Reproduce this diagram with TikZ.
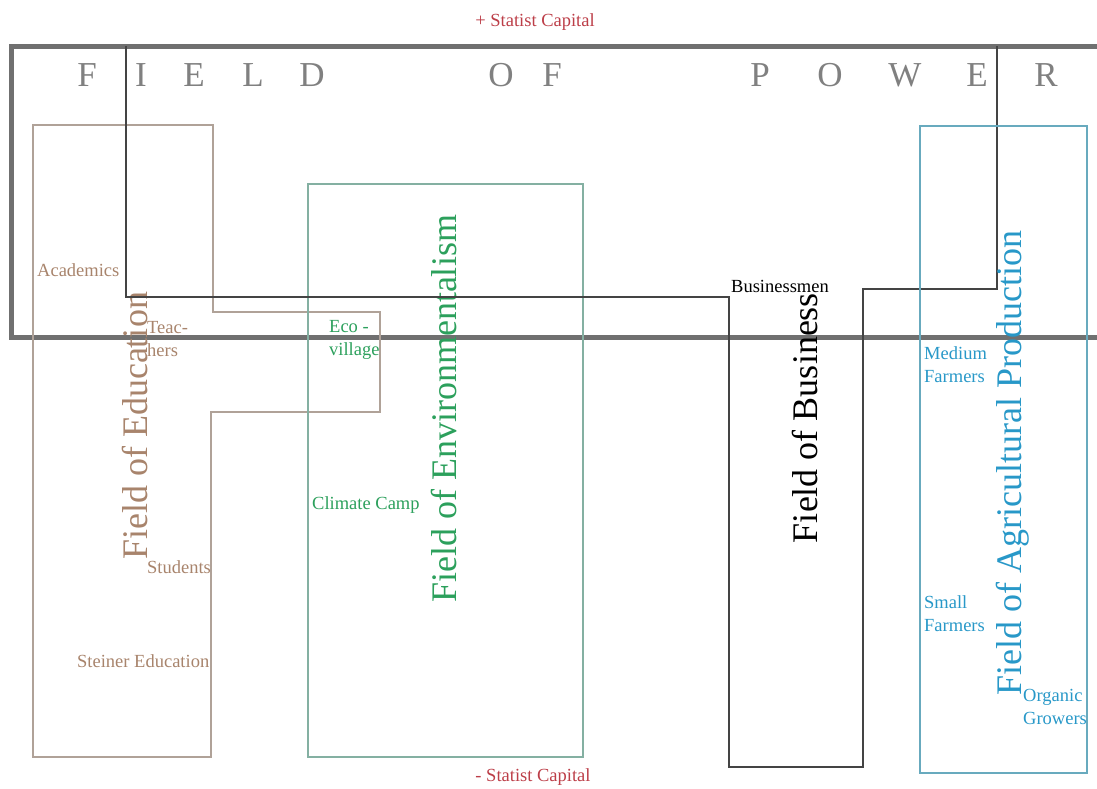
\documentclass[tikz,border=0pt]{standalone}
\usepackage{fontspec}
\setmainfont{Liberation Serif}
\usepackage{tikz}
\usepackage{xcolor}

\definecolor{powergray}{RGB}{112,112,112}
\definecolor{lettergray}{RGB}{128,128,128}
\definecolor{busline}{RGB}{68,68,68}
\definecolor{edutext}{RGB}{168,132,108}
\definecolor{eduline}{RGB}{176,162,152}
\definecolor{envtext}{RGB}{44,160,92}
\definecolor{envline}{RGB}{132,176,162}
\definecolor{agritext}{RGB}{40,152,200}
\definecolor{agriline}{RGB}{104,170,190}
\definecolor{capred}{RGB}{188,62,72}

\tikzset{
  small/.style={inner sep=0pt,font=\fontsize{18.5}{23}\selectfont,align=left},
  fieldname/.style={inner sep=0pt,rotate=90,anchor=base,font=\fontsize{36}{40}\selectfont},
  powerletter/.style={inner sep=0pt,anchor=base,text=lettergray,font=\fontsize{35}{40}\selectfont}
}

\begin{document}
\begin{tikzpicture}[x=1pt,y=-1pt]
        \useasboundingbox (0,0) rectangle (1097,788);
        % Field of power
        \draw[powergray,line width=5pt] (1097,46) -- (11,46) -- (11,337) -- (1097,337);
        \foreach \ch/\px in {F/87,I/141,E/194,L/253,D/312,O/501,F/552,P/760,O/830,W/905,E/977,R/1046}
            \node[powerletter] (pow-\px) at (\px,86) {\ch};
        \node[small,text=capred] (capplus) at (535,22) {+ Statist Capital};
        \node[small,text=capred] (capminus) at (533,777) {- Statist Capital};

        % Field of education
        \draw[eduline,line width=1.4pt] (33,125) -- (213,125) -- (213,312) -- (380,312) -- (380,412)
            -- (211,412) -- (211,757) -- (33,757) -- cycle;
        \node[fieldname,text=edutext] (edu) at (147,426) {Field of Education};
        \node[small,text=edutext,anchor=west] (academics) at (37,270) {Academics};
        \node[small,text=edutext,anchor=west] (teachers) at (147,339) {Teac-\\hers};
        \node[small,text=edutext,anchor=west] (students) at (147,567) {Students};
        \node[small,text=edutext,anchor=west] (steiner) at (77,661) {Steiner Education};

        % Field of environmentalism
        \draw[envline,line width=1.4pt] (308,184) rectangle (583,757);
        \node[fieldname,text=envtext] (env) at (456,409) {Field of Environmentalism};
        \node[small,text=envtext,anchor=west] (ecovillage) at (329,340) {Eco -\\village};
        \node[small,text=envtext,anchor=west] (climate) at (312,505) {Climate Camp};

        % Field of business
        \draw[busline,line width=2pt] (126,46) -- (126,297) -- (729,297) -- (729,767) -- (863,767)
            -- (863,289) -- (997,289) -- (997,46);
        \node[fieldname,text=black] (bus) at (817,418) {Field of Business};
        \node[small,text=black,anchor=west] (businessmen) at (731,286) {Businessmen};

        % Field of agricultural production
        \draw[agriline,line width=1.4pt] (920,126) rectangle (1087,773);
        \node[fieldname,text=agritext] (agri) at (1021,463) {Field of Agricultural Production};
        \node[small,text=agritext,anchor=west] (medium) at (924,365) {Medium\\Farmers};
        \node[small,text=agritext,anchor=west] (smallf) at (924,614) {Small\\Farmers};
        \node[small,text=agritext,anchor=west] (organic) at (1023,707) {Organic\\Growers};
    \end{tikzpicture}
\end{document}
